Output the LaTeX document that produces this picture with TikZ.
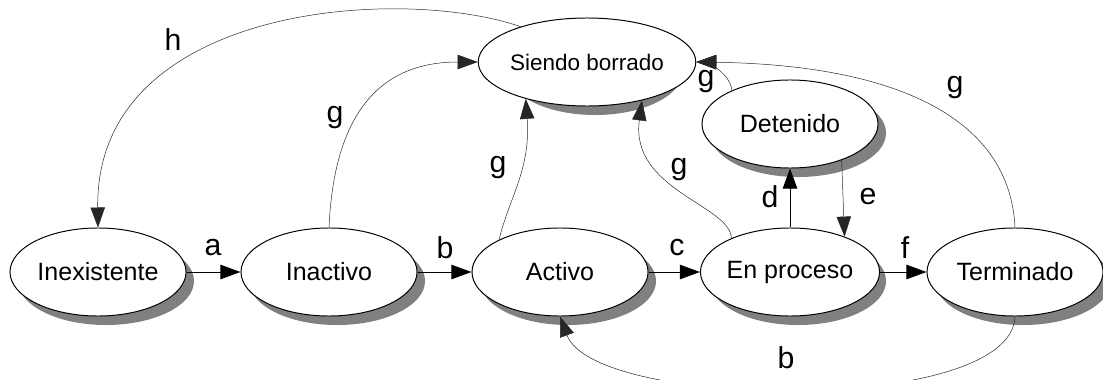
\documentclass[tikz,border=0pt]{standalone}
\usepackage{fontspec}
\setmainfont{Liberation Sans}
\usetikzlibrary{shapes.geometric,arrows.meta}

\tikzset{
  estado/.style={draw, ellipse, fill=white, line width=0.7pt,
    minimum width=4.4cm, minimum height=2.2cm, inner sep=0pt,
    font=\fontsize{17.8}{20}\selectfont},
  sombra/.style={fill=black!50, draw=none},
  lbl/.style={font=\fontsize{21.5}{24}\selectfont, inner sep=0pt},
  move/.style={-{Triangle[length=0.5cm,width=0.36cm]}, line width=0.7pt},
  back/.style={-{Triangle[length=0.5cm,width=0.36cm]}, line width=0.35pt, black!85},
}

\begin{document}
\begin{tikzpicture}[x=0.025cm, y=-0.025cm]
\useasboundingbox (0,0) rectangle (1103,380);
% shadows first, the states go on top
\foreach \x/\y in {98/272, 329/272, 560/272, 790/272, 1015/272, 790/124, 587/62}
  \fill [sombra] (\x+8,\y+9) ellipse [x radius=2.2cm, y radius=1.1cm];
% states
\node [estado] (inex) at (98,272) {Inexistente};
\node [estado] (inac) at (329,272) {Inactivo};
\node [estado] (act) at (560,272) {Activo};
\node [estado] (enp) at (790,272) {En proceso};
\node [estado] (term) at (1015,272) {Terminado};
\node [estado] (det) at (790,124) {Detenido};
\node [estado, font=\fontsize{16}{18}\selectfont] (sb) at (587,62) {Siendo borrado};
% main transitions
\path [move] (inex) edge (inac);
\path [move] (inac) edge (act);
\path [move] (act) edge (enp);
\path [move] (enp) edge (term);
\path [move] (enp) edge (det);
\path [back] (det.325) edge (enp.33);
% curved ones
\draw [back] (sb.152) .. controls (400,-15) and (95,5) .. (inex.north);
\draw [back] (inac.north) .. controls (335,90) and (400,62) .. (sb.west);
\draw [back] (act.152) .. controls (508,200) and (531,170) .. (sb.211);
\draw [back] (enp.150) .. controls (730,205) and (630,190) .. (sb.325);
\draw [back] (det.150) .. controls (730,70) and (700,62) .. (sb.east);
\draw [back] (term.north) .. controls (1010,120) and (900,65) .. (sb.east);
\draw [back] (term.south) .. controls (1012,415) and (595,410) .. (act.south);
% labels
\node [lbl] (la) at (213,248) {a};
\node [lbl] (lb) at (445,248) {b};
\node [lbl] (lc) at (677,248) {c};
\node [lbl] (lf) at (905,248) {f};
\node [lbl] (ld) at (770,197) {d};
\node [lbl] (le) at (868,197) {e};
\node [lbl] (lg1) at (335,118) {g};
\node [lbl] (lg2) at (498,168) {g};
\node [lbl] (lg3) at (679,170) {g};
\node [lbl] (lg4) at (706,82) {g};
\node [lbl] (lg5) at (955,88) {g};
\node [lbl] (lh) at (173,40) {h};
\node [lbl] (lb2) at (786,358) {b};
\end{tikzpicture}
\end{document}
